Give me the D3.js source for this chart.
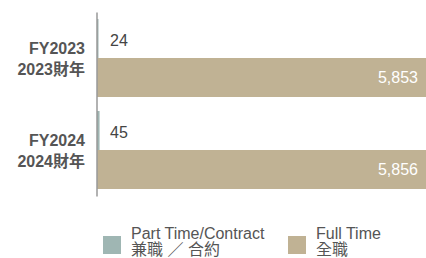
<!DOCTYPE html>
<html>
<head>
<meta charset="utf-8">
<script src="https://cdn.jsdelivr.net/npm/d3@7"></script>
<style>
  body { margin: 0; background: #fff; }
  text { font-family: "Liberation Sans", Arial, "Noto Sans CJK TC", sans-serif; }
</style>
</head>
<body>
<svg width="426" height="258"></svg>
<script>
// ===== data =====
var years = ["FY2023", "FY2024"];
var yearsZh = ["2023財年", "2024財年"];
var series = ["Part Time/Contract", "Full Time"];
var seriesZh = ["兼職 ／ 合約", "全職"];
var partTime = [24, 45];
var fullTime = [5853, 5856];
var colors = ["#9fb6b3", "#c0b294"];

var svg = d3.select("svg");
var fmt = d3.format(",");

var rows = years.map(function(y, i) {
  return { year: y, zh: yearsZh[i], values: [partTime[i], fullTime[i]] };
});

// scales
var xs = d3.scaleLinear().domain([0, 5856]).range([97, 430]);
var ys = d3.scaleBand().domain(years).range([19, 189]).paddingInner(14 / 92);
var inner = d3.scaleBand().domain(series).range([0, ys.bandwidth()]);

// bars
var groups = svg.selectAll("g.grp")
  .data(rows)
  .enter().append("g")
  .attr("class", "grp")
  .attr("transform", function(d) { return "translate(0," + ys(d.year) + ")"; });

groups.selectAll("rect")
  .data(function(d) { return d.values.map(function(v, j) { return { s: series[j], v: v, j: j }; }); })
  .enter().append("rect")
  .attr("x", xs(0))
  .attr("y", function(d) { return inner(d.s); })
  .attr("width", function(d) { return Math.max(1.5, xs(d.v) - xs(0)); })
  .attr("height", inner.bandwidth())
  .attr("fill", function(d) { return colors[d.j]; });

// value labels
groups.append("text")
  .attr("x", xs(0) + 13)
  .attr("y", inner(series[0]) + inner.bandwidth() / 2 + 7)
  .attr("font-size", 16)
  .attr("fill", "#444")
  .text(function(d) { return fmt(d.values[0]); });

groups.append("text")
  .attr("x", 418)
  .attr("y", inner(series[1]) + inner.bandwidth() / 2 + 5.5)
  .attr("text-anchor", "end")
  .attr("font-size", 16)
  .attr("fill", "#fff")
  .text(function(d) { return fmt(d.values[1]); });

// category labels
groups.append("text")
  .attr("x", 85)
  .attr("y", ys.bandwidth() / 2 - 4)
  .attr("text-anchor", "end")
  .attr("font-size", 16)
  .attr("font-weight", "bold")
  .attr("fill", "#555")
  .text(function(d) { return d.year; });

groups.append("text")
  .attr("x", 85)
  .attr("y", ys.bandwidth() / 2 + 17)
  .attr("text-anchor", "end")
  .attr("font-size", 16)
  .attr("font-weight", "bold")
  .attr("fill", "#555")
  .text(function(d) { return d.zh; });

// axis line
var axisScale = d3.scaleLinear().range([12, 196]);
svg.append("g")
  .attr("transform", "translate(96.5,0)")
  .call(d3.axisLeft(axisScale).tickValues([]).tickSizeOuter(0))
  .select(".domain")
  .attr("stroke", "#999")
  .attr("stroke-width", 1.5);

// legend
var legX = [103, 288];
var leg = svg.selectAll("g.leg")
  .data(series)
  .enter().append("g")
  .attr("class", "leg")
  .attr("transform", function(d, i) { return "translate(" + legX[i] + ",236)"; });

leg.append("rect")
  .attr("width", 18).attr("height", 18)
  .attr("fill", function(d, i) { return colors[i]; });

leg.append("text")
  .attr("x", 28).attr("y", 3)
  .attr("font-size", 16)
  .attr("fill", "#555")
  .text(function(d) { return d; });

leg.append("text")
  .attr("x", 28).attr("y", 19)
  .attr("font-size", 16)
  .attr("fill", "#555")
  .text(function(d, i) { return seriesZh[i]; });
</script>
</body>
</html>
